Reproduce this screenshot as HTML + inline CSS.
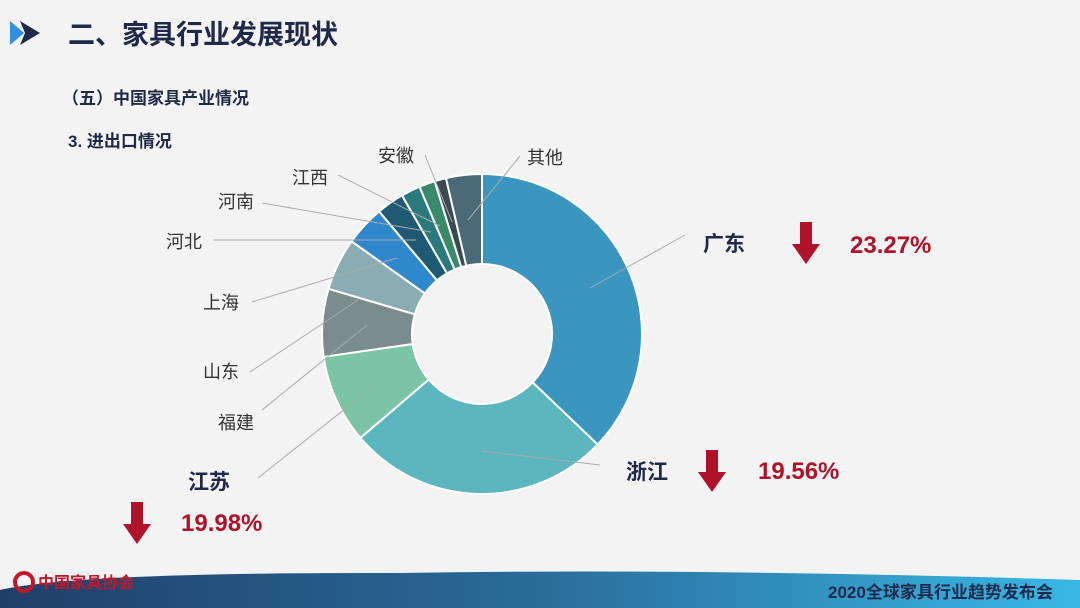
<!DOCTYPE html>
<html><head><meta charset="utf-8"><style>
body{margin:0;width:1080px;height:608px;background:#f3f3f3;overflow:hidden;font-family:"Liberation Sans","Noto Sans CJK SC",sans-serif;}
</style></head><body>
<svg id="s" width="1080" height="608" xmlns="http://www.w3.org/2000/svg" style="position:absolute;left:0;top:0">
<defs>
<linearGradient id="g" x1="0" x2="1" y1="0" y2="0"><stop offset="0" stop-color="#1f3f68"/><stop offset="0.5" stop-color="#2a6c9a"/><stop offset="1" stop-color="#39b8e6"/></linearGradient>
</defs>
<polygon points="10,21 24,33 10,45" fill="#2f8fe0"/>
<polygon points="20,21 40,33 20,45 25,33" fill="#1f2a4a"/>
<g font-family="Liberation Sans,Noto Sans CJK SC,sans-serif" fill="#1f2a4a" font-weight="bold">
<text x="68" y="44" font-size="27">二、家具行业发展现状</text>
<text x="62" y="104" font-size="17">（五）中国家具产业情况</text>
<text x="68" y="147" font-size="17">3. 进出口情况</text>
</g>
<g id="pie"></g>
<g stroke="#aaa" stroke-width="1" fill="none">
<line x1="590" y1="288" x2="685" y2="235"/>
<line x1="482" y1="451" x2="600" y2="465"/>
<line x1="375" y1="385" x2="258" y2="478"/>
<line x1="367" y1="325" x2="262" y2="410"/>
<line x1="358" y1="300" x2="250" y2="372"/>
<line x1="397" y1="258" x2="252" y2="302"/>
<line x1="416" y1="240" x2="213" y2="240"/>
<line x1="431" y1="232" x2="262" y2="203"/>
<line x1="440" y1="226" x2="338" y2="175"/>
<line x1="452" y1="222" x2="425" y2="155"/>
<line x1="468" y1="220" x2="520" y2="156"/>
</g>
<g font-size="18" fill="#333">
<text x="378" y="162">安徽</text>
<text x="527" y="164">其他</text>
<text x="292" y="184">江西</text>
<text x="218" y="208">河南</text>
<text x="166" y="248">河北</text>
<text x="203" y="309">上海</text>
<text x="203" y="378">山东</text>
<text x="218" y="429">福建</text>
</g>
<g font-weight="bold" fill="#1f2a4a" font-size="21">
<text x="703" y="251">广东</text>
<text x="626" y="479">浙江</text>
<text x="188" y="489">江苏</text>
</g>
<g fill="#b0122a" font-weight="bold" font-size="24">
<text x="850" y="253">23.27%</text>
<text x="758" y="479">19.56%</text>
<text x="181" y="531">19.98%</text>
</g>
<g fill="#b0122a">
<path d="M800,222h12v22h8l-14,20l-14,-20h8z"/>
<path d="M706,450h12v22h8l-14,20l-14,-20h8z"/>
<path d="M131,502h12v22h8l-14,20l-14,-20h8z"/>
</g>
<path d="M0,608 L0,590 Q80,572 400,573 Q700,568 1080,580 L1080,608Z" fill="url(#g)"/>
<circle cx="24" cy="582" r="9" fill="none" stroke="#c0182a" stroke-width="4"/>
<text x="38" y="588" font-size="16" font-weight="bold" fill="#c0182a">中国家具协会</text>
<text x="828" y="598" font-size="17" font-weight="bold" fill="#1f2a4a">2020全球家具行业趋势发布会</text>
</svg>
<script>
var cx=482,cy=334,R=160,r=70;
var b=[0,133.7,229.5,261.8,286.4,305.4,320,330,337,342.8,347,360];
var c=["#3a96bf","#5bb6c0","#7cc4a6","#7a8c8d","#8aacb3","#2f88cc","#1e5a73","#2a7a7c","#3a8a6a","#3a4a50","#4a6a78"];
function p(a,rr){a=a*Math.PI/180;return [cx+rr*Math.sin(a),cy-rr*Math.cos(a)];}
var h="";
for(var i=0;i<11;i++){var a0=b[i],a1=b[i+1],l=(a1-a0)>180?1:0;
var A=p(a0,R),B=p(a1,R),C=p(a1,r),D=p(a0,r);
h+='<path d="M'+A+' A'+R+','+R+' 0 '+l+' 1 '+B+' L'+C+' A'+r+','+r+' 0 '+l+' 0 '+D+'Z" fill="'+c[i]+'" stroke="#fff" stroke-width="2"/>';}
document.getElementById("pie").innerHTML=h;
</script>
</body></html>
